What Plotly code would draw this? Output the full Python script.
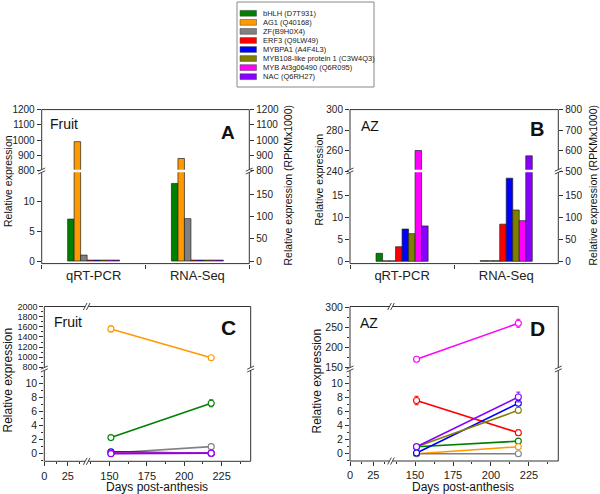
import plotly.graph_objects as go

W, H = 600, 494
FONT = "Liberation Sans, Arial, sans-serif"


def px(x):
    return x / W


def py(y):
    return 1 - y / H


# ---------------- data ----------------
genes = ["bHLH (D7T931)", "AG1 (Q40168)", "ZF(B9H0X4)", "ERF3 (Q9LW49)",
         "MYBPA1 (A4F4L3)", "MYB108-like protein 1 (C3W4Q3)",
         "MYB At3g06490 (Q6R095)", "NAC (Q6RH27)"]
colors = ["#008000", "#FF9900", "#808080", "#FF0000",
          "#0000FF", "#808000", "#FF00FF", "#8800FF"]
categories = ["qRT-PCR", "RNA-Seq"]

fruit_qrt = [7.1, 990, 1.0, 0.15, 0.15, 0.15, 0.15, 0.15]
fruit_rnaseq = [174, 880, 95, 2, 2, 2, 2, 2]
az_qrt = [1.8, 0.12, 0.12, 3.3, 7.3, 6.25, 260, 8.0]
az_rnaseq = [1.5, 1.5, 1.5, 84, 188, 116, 92, 574]

days = [151, 218]
fruit_time = [[2.3, 7.2], [1560, 990], [0.1, 1.0], [0.15, 0.05],
              [0.25, 0.05], [0.1, 0.05], [0.05, 0.05], [0.0, 0.05]]
fruit_time_err = [[0.15, 0.5], [60, 35], [0.05, 0.08], [0.05, 0.03],
                  [0.1, 0.03], [0.05, 0.03], [0.03, 0.03], [0.03, 0.03]]
az_time = [[1.0, 1.8], [0.0, 1.0], [0.0, 0.0], [7.6, 3.0],
           [0.1, 7.2], [1.0, 6.2], [170, 260], [1.0, 8.1]]
az_time_err = [[0.1, 0.15], [0.05, 0.1], [0.03, 0.03], [0.6, 0.4],
               [0.3, 0.6], [0.1, 0.4], [6, 10], [0.15, 0.7]]

# tick labels
a_low_left_ticks = [0, 5, 10]
a_low_right_ticks = [0, 50, 100, 150]
a_up_ticks = [800, 900, 1000, 1100, 1200]
b_low_left_ticks = [0, 5, 10, 15]
b_low_right_ticks = [0, 50, 100, 150]
b_up_left_ticks = [240, 260, 280, 300]
b_up_right_ticks = [500, 600, 700, 800]
time_left_ticks = [0, 25]
time_right_ticks = [150, 175, 200, 225]
time_low_ticks = [0, 2, 4, 6, 8, 10]
c_up_ticks = [800, 1000, 1200, 1400, 1600, 1800, 2000]
d_up_ticks = [150, 200, 250, 300]

# ---------------- figure ----------------
fig = go.Figure()

# bar panels
bar_panels = [
    ("x", ("y", "y2", "y3", "y4"), fruit_qrt, fruit_rnaseq),
    ("x2", ("y5", "y6", "y7", "y8"), az_qrt, az_rnaseq),
]
for xa, (yl, yr, yul, yur), qrt, rna in bar_panels:
    for i, g in enumerate(genes):
        for ya, cat, vals in ((yl, categories[0], qrt), (yr, categories[1], rna),
                              (yul, categories[0], qrt), (yur, categories[1], rna)):
            fig.add_trace(go.Bar(
                x=[cat], y=[vals[i]], xaxis=xa, yaxis=ya, offsetgroup=str(i),
                marker=dict(color=colors[i], line=dict(color="#222", width=0.7)),
                name=g, showlegend=False, hoverinfo="skip"))

# line panels (broken x and y axes: the series are drawn on every segment)
line_panels = [
    (("x3", "x4"), ("y9", "y10"), fruit_time, fruit_time_err),
    (("x5", "x6"), ("y11", "y12"), az_time, az_time_err),
]
for xas, yas, vals, errs in line_panels:
    for xa in xas:
        for ya in yas:
            for i, g in enumerate(genes):
                fig.add_trace(go.Scatter(
                    x=days, y=vals[i], xaxis=xa, yaxis=ya, mode="lines+markers",
                    line=dict(color=colors[i], width=1.6),
                    marker=dict(symbol="circle", size=6, color="white",
                                line=dict(color=colors[i], width=1.1)),
                    error_y=dict(type="data", array=errs[i], color=colors[i],
                                 thickness=1, width=2),
                    name=g, showlegend=False, hoverinfo="skip"))


def ax(**kw):
    d = dict(showgrid=False, zeroline=False, showline=False, ticks="outside",
             ticklen=4, tickwidth=1, tickcolor="#333", automargin=False,
             tickfont=dict(size=10, color="#222", family=FONT), fixedrange=True)
    d.update(kw)
    return d


def minor(vals):
    return dict(tickvals=vals, ticks="outside", ticklen=2, tickcolor="#333")


# Panel geometry (pixels)
A = dict(x0=41.7, x1=249.3, y0=109.6, y1=263.6, yb=171)
B = dict(x0=350.0, x1=558.3, y0=109.6, y1=263.6, yb=171)
C = dict(x0=44.3, x1=250.7, y0=306.5, y1=461.3, yb=369, xb=86.7)
D = dict(x0=350.0, x1=558.3, y0=306.5, y1=461.0, yb=369, xb=391.0)

cat_font = dict(size=13, color="#222", family=FONT)
xt_font = dict(size=11, color="#222", family=FONT)
yt_font = dict(size=10.5, color="#222", family=FONT)
yt_small = dict(size=9, color="#222", family=FONT)

layout_axes = dict(
    # ---- Panel A ----
    xaxis=ax(domain=[px(A["x0"]), px(A["x1"])], anchor="y", type="category",
             categoryorder="array", categoryarray=categories, range=[-0.5, 1.5],
             tickson="boundaries", tickfont=cat_font, ticklabelstandoff=2),
    yaxis=ax(domain=[py(A["y1"]), py(A["yb"])], anchor="x", range=[-0.44, 15.25],
             tickvals=a_low_left_ticks),
    yaxis2=ax(overlaying="y", side="right", anchor="x", range=[-5.8, 201.8],
              tickvals=a_low_right_ticks),
    yaxis3=ax(domain=[py(A["yb"]), py(A["y0"])], anchor="x", range=[798, 1200],
              tickvals=a_up_ticks),
    yaxis4=ax(overlaying="y3", side="right", anchor="x", range=[798, 1200],
              tickvals=a_up_ticks),
    # ---- Panel B ----
    xaxis2=ax(domain=[px(B["x0"]), px(B["x1"])], anchor="y5", type="category",
              categoryorder="array", categoryarray=categories, range=[-0.5, 1.5],
              tickson="boundaries", tickfont=cat_font, ticklabelstandoff=2),
    yaxis5=ax(domain=[py(B["y1"]), py(B["yb"])], anchor="x2", range=[-0.52, 20.43],
              tickvals=b_low_left_ticks),
    yaxis6=ax(overlaying="y5", side="right", anchor="x2", range=[-5.2, 204.3],
              tickvals=b_low_right_ticks),
    yaxis7=ax(domain=[py(B["yb"]), py(B["y0"])], anchor="x2", range=[240, 300],
              tickvals=b_up_left_ticks),
    yaxis8=ax(overlaying="y7", side="right", anchor="x2", range=[500, 800],
              tickvals=b_up_right_ticks),
    # ---- Panel C ----
    xaxis3=ax(domain=[px(C["x0"]), px(C["xb"])], anchor="y9", range=[0, 45.1],
              tickvals=time_left_ticks, minor=minor([12.5, 37.5]), tickfont=xt_font),
    xaxis4=ax(domain=[px(C["xb"]), px(C["x1"])], anchor="y9", range=[134.8, 244.4],
              tickvals=time_right_ticks, minor=minor([137.5, 162.5, 187.5, 212.5, 237.5]),
              tickfont=xt_font),
    yaxis9=ax(domain=[py(C["y1"]), py(C["yb"])], anchor="x3", range=[-1.09, 12.1],
              tickvals=time_low_ticks, minor=minor([-1, 1, 3, 5, 7, 9, 11]),
              tickfont=yt_font),
    yaxis10=ax(domain=[py(C["yb"]), py(C["y0"])], anchor="x3", range=[766, 2004],
               tickvals=c_up_ticks, minor=minor([900, 1100, 1300, 1500, 1700, 1900]),
               tickfont=yt_small),
    # ---- Panel D ----
    xaxis5=ax(domain=[px(D["x0"]), px(D["xb"])], anchor="y11", range=[0, 44],
              tickvals=time_left_ticks, minor=minor([12.5, 37.5]), tickfont=xt_font),
    xaxis6=ax(domain=[px(D["xb"]), px(D["x1"])], anchor="y11", range=[134.2, 244.3],
              tickvals=time_right_ticks, minor=minor([137.5, 162.5, 187.5, 212.5, 237.5]),
              tickfont=xt_font),
    yaxis11=ax(domain=[py(D["y1"]), py(D["yb"])], anchor="x5", range=[-1.04, 12.1],
               tickvals=time_low_ticks, minor=minor([-1, 1, 3, 5, 7, 9, 11]),
               tickfont=yt_font),
    yaxis12=ax(domain=[py(D["yb"]), py(D["y0"])], anchor="x5", range=[145.75, 302],
               tickvals=d_up_ticks, minor=minor([175, 225, 275]), tickfont=yt_font),
)

shapes = []
FR = "#333"


def line(x0, y0, x1, y1, color=FR, width=1):
    shapes.append(dict(type="line", xref="paper", yref="paper",
                       x0=px(x0), y0=py(y0), x1=px(x1), y1=py(y1),
                       line=dict(color=color, width=width), layer="above"))


def rect(x0, y0, x1, y1, fill=None, color=FR, width=1):
    shapes.append(dict(type="rect", xref="paper", yref="paper",
                       x0=px(x0), y0=py(y0), x1=px(x1), y1=py(y1),
                       fillcolor=fill if fill else "rgba(0,0,0,0)",
                       line=dict(color=color, width=width), layer="above"))


def vbreak(xf, yb):
    rect(xf - 1.2, yb - 1.4, xf + 1.2, yb + 1.4, fill="white", color="white", width=0)
    for y in (yb - 1.4, yb + 1.4):
        line(xf - 3.5, y + 1.6, xf + 3.5, y - 1.6, width=0.9)


def hbreak(xb, yf):
    rect(xb - 1.5, yf - 1.2, xb + 1.5, yf + 1.2, fill="white", color="white", width=0)
    for x in (xb - 1.5, xb + 1.5):
        line(x - 1.8, yf + 3.5, x + 1.8, yf - 3.5, width=0.9)


for P in (A, B):
    rect(P["x0"] + 0.6, P["yb"] - 1.2, P["x1"] - 0.6, P["yb"] + 1.2,
         fill="white", color="white", width=0)
for P in (A, B, C, D):
    rect(P["x0"], P["y0"], P["x1"], P["y1"])
    vbreak(P["x0"], P["yb"])
    vbreak(P["x1"], P["yb"])
for P in (C, D):
    hbreak(P["xb"], P["y0"])
    hbreak(P["xb"], P["y1"])

# legend box
leg_x0, leg_y0, leg_x1, leg_y1 = 237, 2, 374, 87
rect(leg_x0, leg_y0, leg_x1, leg_y1, color="#888", width=1)
annotations = []
row0, row_step = 13.3, 9.05
for i, g in enumerate(genes):
    yc = row0 + i * row_step
    shapes.append(dict(type="rect", xref="paper", yref="paper",
                       x0=px(240), x1=px(256.5), y0=py(yc + 2.9), y1=py(yc - 2.9),
                       fillcolor=colors[i], line=dict(color="#444", width=0.5)))
    annotations.append(dict(xref="paper", yref="paper", x=px(261), y=py(yc),
                            xanchor="left", yanchor="middle", showarrow=False,
                            text=g, font=dict(size=7.5, color="#222", family=FONT)))


def text(x, y, s, size, bold=False, angle=0, anchor="center"):
    annotations.append(dict(xref="paper", yref="paper", x=px(x), y=py(y),
                            xanchor=anchor, yanchor="middle", showarrow=False,
                            textangle=angle,
                            text=f"<b>{s}</b>" if bold else s,
                            font=dict(size=size, color="#111", family=FONT)))


# axis titles
text(8, 181, "Relative expression", 10.5, angle=-90)
text(287.5, 186, "Relative expression (RPKMx1000)", 10.5, angle=-90)
text(318.5, 180, "Relative expression", 10.5, angle=-90)
text(592.5, 186, "Relative expression (RPKMx1000)", 10.5, angle=-90)
text(7, 380.5, "Relative expression", 12, angle=-90)
text(316, 380.5, "Relative expression", 12, angle=-90)
text(157.3, 486.5, "Days post-anthesis", 12)
text(463.3, 486.5, "Days post-anthesis", 12)

# panel labels
text(48, 124.3, "Fruit", 14, anchor="left")
text(359, 125.7, "AZ", 14, anchor="left")
text(51.5, 322, "Fruit", 14, anchor="left")
text(358, 322.8, "AZ", 14, anchor="left")
text(227.7, 133, "A", 19, bold=True)
text(537.3, 129, "B", 20, bold=True)
text(228.3, 327.2, "C", 21, bold=True)
text(537.3, 328.2, "D", 21, bold=True)

fig.update_layout(
    width=W, height=H, margin=dict(l=0, r=0, t=0, b=0, pad=0), autosize=False,
    template="none", plot_bgcolor="white", paper_bgcolor="white",
    font=dict(family=FONT, color="#222"),
    barmode="group", bargap=0.5, bargroupgap=0, showlegend=False,
    shapes=shapes, annotations=annotations, **layout_axes)

fig.write_html("out.html", config={"displayModeBar": False},
               post_script="document.body.style.margin='0';")
